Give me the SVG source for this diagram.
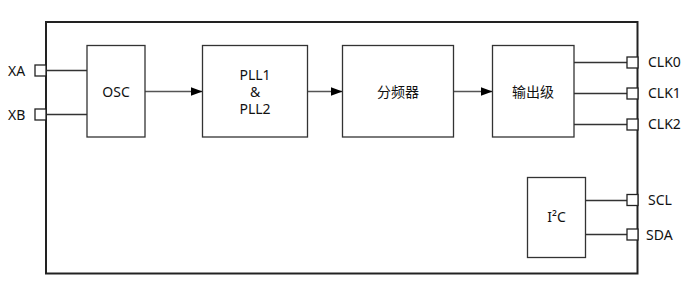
<svg xmlns="http://www.w3.org/2000/svg" width="696" height="288" viewBox="0 0 696 288">
<style>
.box{fill:#fff;stroke:#333;stroke-width:1.3}
.frame{fill:none;stroke:#222;stroke-width:2}
.port{fill:#fff;stroke:#222;stroke-width:1.3}
.wire{fill:none;stroke:#333;stroke-width:1.3}
.arrow{fill:none;stroke:#555;stroke-width:1.5;marker-end:url(#ah)}
text{font-family:"Noto Sans","Noto Sans CJK SC",sans-serif;font-size:14px;fill:#111}
.c{text-anchor:middle}
</style>
<defs>
<marker id="ah" viewBox="0 0 12 9" refX="12" refY="4.5" markerWidth="12" markerHeight="9" markerUnits="userSpaceOnUse" orient="auto">
<path d="M0,0 L12,4.5 L0,9 z" fill="#000"/>
</marker>
</defs>
<rect class="frame" x="46" y="22" width="591.5" height="251.5"/>
<g id="connectors">
<line class="wire" x1="46" y1="70.5" x2="87" y2="70.5"/>
<line class="wire" x1="46" y1="114.5" x2="87" y2="114.5"/>
<line class="arrow" x1="145" y1="91.5" x2="202.5" y2="91.5"/>
<line class="arrow" x1="307.5" y1="91.5" x2="342.5" y2="91.5"/>
<line class="arrow" x1="453.5" y1="91.5" x2="492.5" y2="91.5"/>
<line class="wire" x1="574" y1="62.5" x2="627" y2="62.5"/>
<line class="wire" x1="574" y1="93.5" x2="627" y2="93.5"/>
<line class="wire" x1="574" y1="124.5" x2="627" y2="124.5"/>
<line class="wire" x1="585.5" y1="200.5" x2="627" y2="200.5"/>
<line class="wire" x1="585.5" y1="234.5" x2="627" y2="234.5"/>
</g>
<g id="XA"><rect class="port" x="35" y="65" width="11" height="11"/><text x="8" y="75.5">XA</text></g>
<g id="XB"><rect class="port" x="35" y="109" width="11" height="11"/><text x="8" y="119.5">XB</text></g>
<g id="OSC"><rect class="box" x="87" y="45.5" width="58" height="91.5"/><text class="c" x="116" y="96.5">OSC</text></g>
<g id="PLL"><rect class="box" x="202.5" y="45.5" width="105" height="91.5"/><text class="c" x="255" y="79.5">PLL1</text><text class="c" x="255" y="96.5">&amp;</text><text class="c" x="255" y="113.5">PLL2</text></g>
<g id="DIV"><rect class="box" x="342.5" y="45.5" width="111" height="91.5"/><text class="c" x="398" y="96.5">分频器</text></g>
<g id="OUT"><rect class="box" x="492.5" y="45.5" width="81.5" height="91.5"/><text class="c" x="533" y="96.5">输出级</text></g>
<g id="I2C"><rect class="box" x="527.5" y="177.5" width="58" height="80"/><text class="c" x="556.5" y="222">I²C</text></g>
<g id="CLK0"><rect class="port" x="627" y="57" width="11" height="11"/><text x="648" y="67">CLK0</text></g>
<g id="CLK1"><rect class="port" x="627" y="88" width="11" height="11"/><text x="648" y="98">CLK1</text></g>
<g id="CLK2"><rect class="port" x="627" y="119" width="11" height="11"/><text x="648" y="129">CLK2</text></g>
<g id="SCL"><rect class="port" x="627" y="194.5" width="11" height="11"/><text x="648" y="205">SCL</text></g>
<g id="SDA"><rect class="port" x="627" y="229" width="11" height="11"/><text x="646" y="239.5">SDA</text></g>
</svg>
